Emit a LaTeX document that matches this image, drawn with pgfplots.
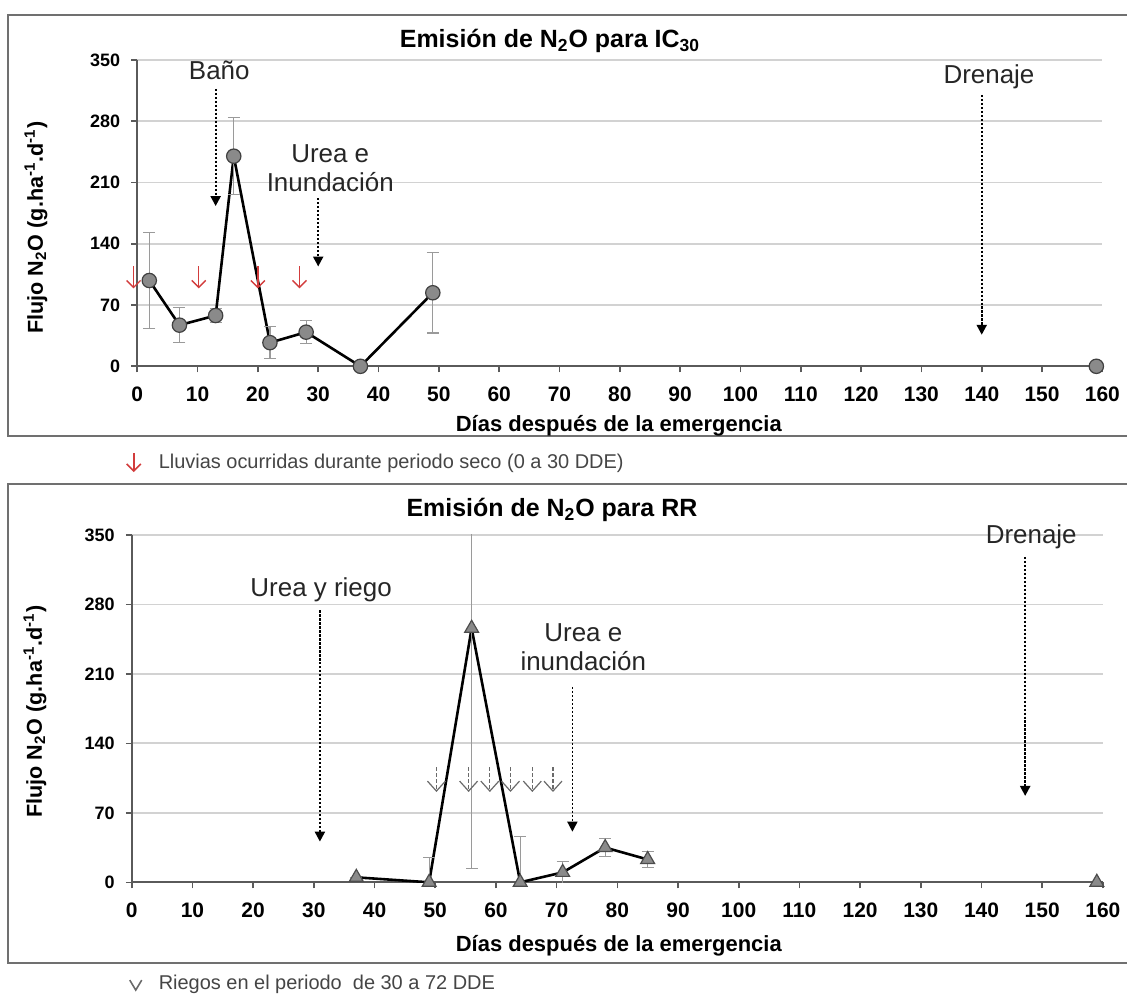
\documentclass[border=0pt]{standalone}
\usepackage{pgfplots}
\pgfplotsset{compat=1.18}
\usepackage{fontspec}
\setmainfont{Liberation Sans}
\usetikzlibrary{arrows.meta}
\definecolor{gridc}{HTML}{D2D2D2}
\definecolor{markc}{HTML}{8A8A8A}
\definecolor{errc}{HTML}{9A9A9A}
\definecolor{axc}{HTML}{5A5A5A}
\definecolor{framec}{HTML}{707070}
\definecolor{rainred}{HTML}{D23C3C}
\definecolor{legc}{HTML}{454545}
\definecolor{irrc}{HTML}{6A6A6A}

\pgfplotsset{
  panel/.style={
    scale only axis,
    xmin=0, xmax=160, ymin=0, ymax=350,
    axis x line*=bottom, axis y line*=left,
    axis line style={-, draw=axc, line width=0.9pt},
    xtick={0,10,...,160}, ytick={0,70,...,350},
    tick align=outside, major tick length=3pt,
    tick style={draw=axc, line width=0.8pt},
    ymajorgrids, grid style={draw=gridc, line width=0.9pt},
    xticklabel style={font=\fontsize{10.5}{11}\selectfont\bfseries, yshift=-4pt},
    yticklabel style={font=\fontsize{9}{10}\selectfont\bfseries, xshift=-2pt},
    /pgf/number format/assume math mode=true,
    clip mode=individual,
  },
  dline/.style={black, line width=1.3pt},
  errs/.style={error bars/.cd, y dir=both, y explicit,
    error bar style={errc, line width=0.6pt},
    error mark options={rotate=90, mark size=3pt, errc, line width=0.6pt}},
}
\tikzset{
  ann/.style={font=\fontsize{13}{14.5}\selectfont, text=black!85, align=center},
  dotarrow/.style={black, line width=1.1pt, dash pattern=on 1.1pt off 0.9pt,
    -{Triangle[width=5pt,length=5pt,sep=0pt]}},
  rainarrow/.style={rainred, line width=0.7pt, -{Straight Barb[length=3.5pt,width=7pt]}},
  irrarrow/.style={irrc, line width=0.6pt, dash pattern=on 1.8pt off 1.2pt,
    -{Straight Barb[length=5pt,width=9pt]}},
}

\pgfplotstableread{
x y e
2 98 55
7 47 20
13 58 8
16 240 44
22 27 18
28 39 13
37 0 0
49 84 46
}\ictable

\pgfplotstableread{
x y e
37 5 0
49 0 25
56 256 242
64 0 46
71 10 11
78 35 9
85 23 8
}\rrtable

\begin{document}
\begin{tikzpicture}
\begin{scope}[x=0.5pt,y=-0.5pt]
  \useasboundingbox (0,0) rectangle (1127,995);
  % frames
  \draw[framec, line width=1.1pt] (8,15) rectangle (1150,437);
  \draw[framec, line width=1.1pt] (8,485) rectangle (1150,965);
  % titles
  \node[font=\fontsize{12.5}{15}\selectfont\bfseries] at (551,41)
    {Emisión de N\textsubscript{2}O para IC\textsubscript{30}};
  \node[font=\fontsize{12.5}{15}\selectfont\bfseries] at (553,511)
    {Emisión de N\textsubscript{2}O para RR};
  % y labels
  \node[rotate=90, font=\fontsize{10.8}{12}\selectfont\bfseries] at (36,228)
    {Flujo N\textsubscript{2}O (g.ha\textsuperscript{-1}.d\textsuperscript{-1})};
  \node[rotate=90, font=\fontsize{10.8}{12}\selectfont\bfseries] at (35,713)
    {Flujo N\textsubscript{2}O (g.ha\textsuperscript{-1}.d\textsuperscript{-1})};
  % x labels
  \node[font=\fontsize{11}{12}\selectfont\bfseries] at (620,427)
    {Días después de la emergencia};
  \node[font=\fontsize{11}{12}\selectfont\bfseries] at (620,948)
    {Días después de la emergencia};
  % legends
  \draw[rainred, line width=0.8pt, -{Straight Barb[length=3.5pt,width=7pt]}] (134,454) -- (134,473);
  \node[anchor=west, font=\fontsize{10}{12}\selectfont, text=legc] at (152,464)
    {Lluvias ocurridas durante periodo seco (0 a 30 DDE)};
  \draw[irrc, line width=0.8pt] (130,982) -- (136,992) -- (142,982);
  \node[anchor=west, font=\fontsize{10}{12}\selectfont, text=legc] at (152,986)
    {Riegos en el periodo\ \ de 30 a 72 DDE};
\end{scope}

% ---------------- top panel ----------------
\begin{axis}[panel, width=483.5pt, height=153.5pt, at={(68.75pt,-183.5pt)}, anchor=south west]
  \addplot[dline, mark=*, mark size=3.6pt,
    mark options={solid, fill=markc, draw=black!75, line width=0.6pt}, errs]
    table[x=x, y=y, y error=e] {\ictable};
  \addplot[only marks, mark=*, mark size=3.6pt,
    mark options={fill=markc, draw=black!75, line width=0.6pt}]
    coordinates {(159,0)};
  % annotations
  \node[ann] at (axis cs:13.6,338) {Baño};
  \draw[dotarrow] (axis cs:13,317) -- (axis cs:13,183);
  \node[ann] at (axis cs:32,226.5) {Urea e\\Inundación};
  \draw[dotarrow] (axis cs:30,192) -- (axis cs:30,114);
  \node[ann] at (axis cs:141.2,331) {Drenaje};
  \draw[dotarrow] (axis cs:140,310) -- (axis cs:140,36);
  \draw[rainarrow] (axis cs:-0.6,114) -- (axis cs:-0.6,89);
  \draw[rainarrow] (axis cs:10.2,114) -- (axis cs:10.2,89);
  \draw[rainarrow] (axis cs:20,114) -- (axis cs:20,89);
  \draw[rainarrow] (axis cs:26.9,114) -- (axis cs:26.9,89);
\end{axis}

% ---------------- bottom panel ----------------
\begin{axis}[panel, width=486.5pt, height=174pt, at={(66pt,-442pt)}, anchor=south west]
  \addplot[dline, mark=triangle*, mark size=4pt,
    mark options={solid, fill=markc, draw=black!70, line width=0.6pt}, errs]
    table[x=x, y=y, y error=e] {\rrtable};
  \addplot[only marks, mark=triangle*, mark size=4pt,
    mark options={fill=markc, draw=black!70, line width=0.6pt}]
    coordinates {(159,0)};
  % annotations
  \node[ann] at (axis cs:31.2,295) {Urea y riego};
  \draw[dotarrow] (axis cs:31,274) -- (axis cs:31,41);
  \node[ann] at (axis cs:74.4,237) {Urea e\\inundación};
  \draw[dotarrow, line width=0.8pt] (axis cs:72.6,197) -- (axis cs:72.6,51);
  \node[ann] at (axis cs:148.2,348.5) {Drenaje};
  \draw[dotarrow] (axis cs:147.2,328) -- (axis cs:147.2,87);
  \draw[irrarrow] (axis cs:50.2,116) -- (axis cs:50.2,91);
  \draw[irrarrow] (axis cs:55.5,116) -- (axis cs:55.5,91);
  \draw[irrarrow] (axis cs:59,116) -- (axis cs:59,91);
  \draw[irrarrow] (axis cs:62.4,116) -- (axis cs:62.4,91);
  \draw[irrarrow] (axis cs:66,116) -- (axis cs:66,91);
  \draw[irrarrow] (axis cs:69.4,116) -- (axis cs:69.4,91);
\end{axis}
\end{tikzpicture}
\end{document}
